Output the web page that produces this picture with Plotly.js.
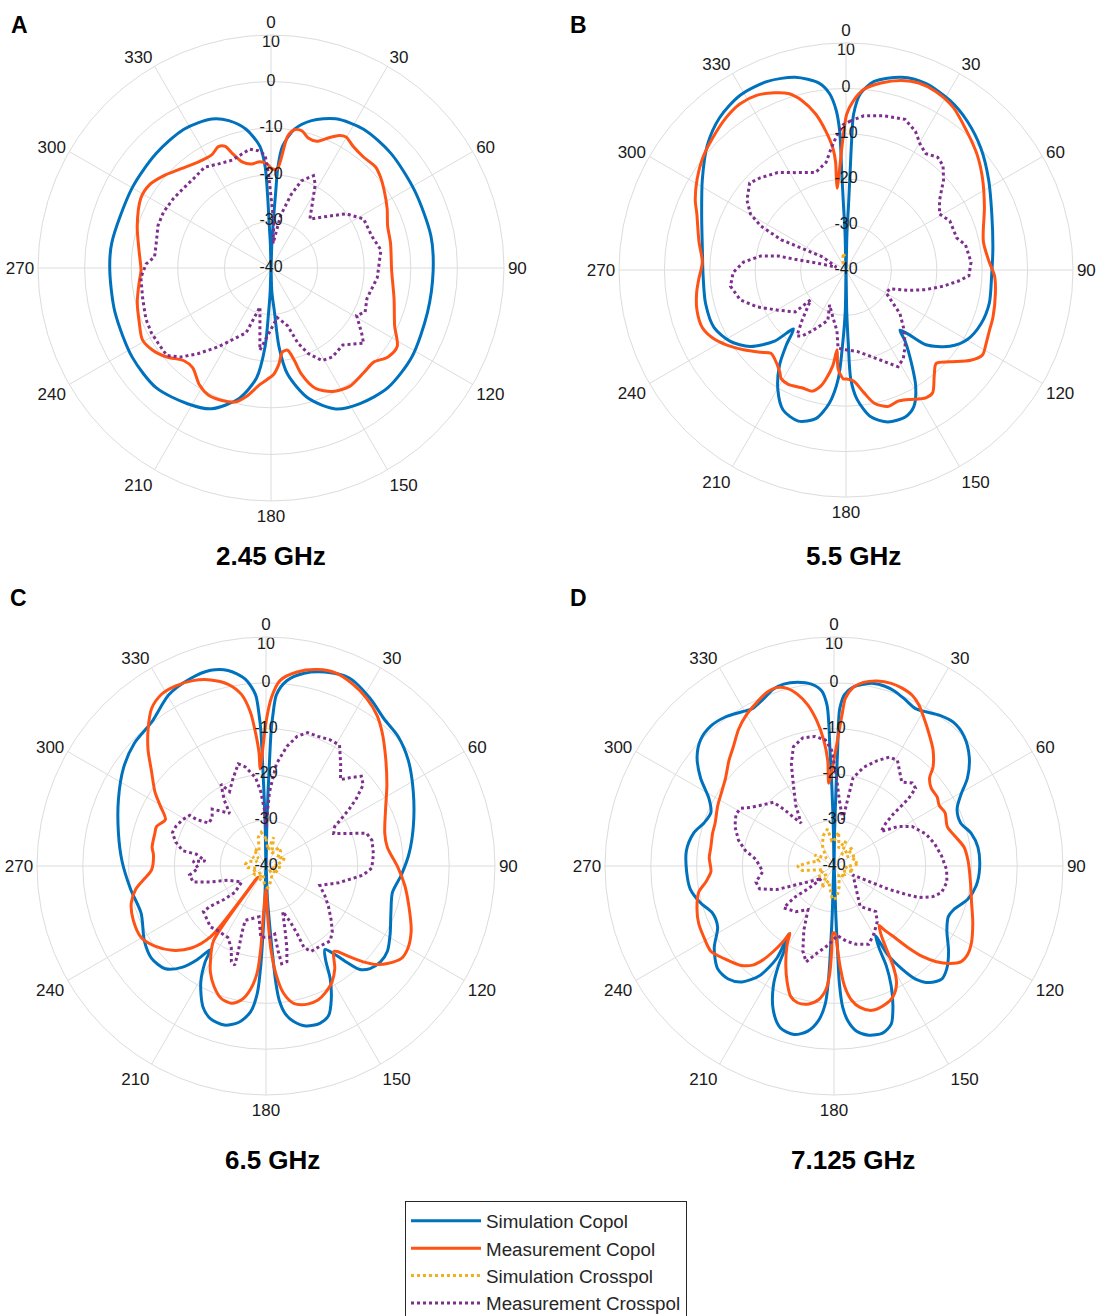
<!DOCTYPE html>
<html>
<head>
<meta charset="utf-8">
<script src="https://cdn.plot.ly/plotly-3.0.1.min.js"></script>
<style>
  html, body { margin: 0; padding: 0; background: #ffffff; }
  #chart { width: 1097px; height: 1316px; }
</style>
</head>
<body>
<div id="chart"></div>
<script>
// Radiation patterns, [angle in degrees (clockwise from 0 at top), gain in dB]

// ---------- 2.45 GHz ----------
const A_simCopol = [
  [0,-40],[2,-35],[2.8,-30.2],[3.5,-24.3],[3.9,-18.4],[5.4,-13.8],[9.6,-9.8],[15.4,-7.2],[23.5,-5.1],
  [33.7,-4.2],[46.3,-4.4],[62,-5.0],[78.8,-5.0],[91,-5.2],[105.8,-5.1],[122.3,-4.25],[135.8,-4.1],
  [146.7,-5.2],[155.3,-6.7],[164,-10.9],[171.1,-16.9],[174.2,-23.0],[175.5,-30.5],[178,-35],[180,-40],
  [182,-35],[183.1,-30.5],[184.3,-23.1],[187.5,-16.2],[193.7,-11.2],[202.9,-7.2],[211.6,-5.8],
  [223.7,-4.4],[237.3,-4.6],[254.2,-5.2],[269,-5.4],[278.9,-5.4],[300,-5.6],[315,-5.2],[327.9,-4.85],
  [338.3,-5.6],[344,-7.1],[349.8,-9.75],[354.8,-13.8],[356.7,-18.3],[357.3,-24.3],[357.7,-31.0],
  [358.5,-35],[360,-40]
];
const A_measCopol = [
  [0.6,-18.7],[3.6,-18.7],[7.2,-11.5],[9.6,-9.9],[12.8,-9.85],[16,-11.0],[19.9,-11.1],[24,-9.4],
  [27.3,-8.0],[29.8,-7.6],[34,-8.5],[39.8,-9.0],[46,-8.8],[50.5,-9.5],[55.3,-10.5],[62.9,-12.0],
  [70.2,-13.4],[78.2,-13.8],[91.3,-14.1],[103.9,-12.8],[115.1,-10.7],[121.9,-8.1],[127.4,-8.5],
  [132.5,-10.1],[138.5,-10.0],[146.4,-9.5],[153.6,-10.4],[159.8,-12.5],[164,-16.3],[165.8,-19.5],
  [168.6,-22.0],[172.3,-21.8],[175.3,-19.3],[178.5,-17.2],[185.4,-14.9],[190.9,-11.9],[194.7,-10.3],
  [200.3,-9.7],[206.3,-9.6],[211.5,-10.6],[218.2,-12.8],[223.2,-12.7],[229.5,-10.6],[235.2,-9.1],
  [240.8,-8.4],[247.5,-9.4],[255.8,-10.4],[264.3,-11.6],[268.8,-12.1],[277.8,-11.4],[287.5,-9.9],
  [298.2,-8.3],[304.5,-8.4],[310.6,-9.6],[317.6,-11.2],[325.4,-12.4],[332.3,-12.6],[336.6,-11.6],
  [339.4,-12.1],[341.4,-14.1],[345,-16.5],[349.3,-17.3],[354,-17.1],[357.7,-17.6],[360.6,-18.7]
];
const A_measCrosspol = [
  [3.5,-30.2],[4.8,-34.7],[10.4,-28.5],[15.3,-23.7],[19.2,-20.2],[24.7,-18.2],[27.9,-19.7],[38.5,-26.6],
  [45.2,-24.5],[54.2,-20.1],[62.1,-17.5],[72.6,-17.3],[80.7,-16.1],[95.2,-17.1],[107.6,-18.4],
  [115.1,-17.7],[119,-19.0],[125.6,-16.1],[129.1,-14.4],[137,-17.4],[145.4,-16.8],[151.1,-17.3],
  [156.5,-20.0],[160.3,-22.9],[164,-27.1],[172.8,-29.3],[187.7,-22.2],[195.8,-31.3],[201,-25.1],
  [206.7,-23.2],[213.7,-19.7],[220.5,-15.8],[225.4,-12.8],[230,-10.8],[236.3,-10.9],[241.5,-10.8],
  [247.8,-11.0],[256.7,-11.7],[265.8,-12.0],[271.9,-13.2],[275.4,-14.9],[282.2,-14.8],[290.5,-14.1],
  [297.4,-14.0],[305.6,-14.3],[312.6,-14.6],[319.7,-14.6],[326.7,-14.1],[333.3,-15.0],[340.3,-15.4],
  [346.1,-14.7],[349.8,-14.1],[353.8,-14.7],[357,-15.7],[358.5,-19.9],[363.5,-30.2]
];

// ---------- 5.5 GHz ----------
const B_simCopol = [
  [0,-40],[1.5,-32],[2.2,-26],[2.4,-18.6],[2.5,-11.0],[2.8,-5.6],[4.7,-1.0],[8.5,2.0],[16.1,4.2],
  [23.1,4.7],[31.5,3.8],[39.1,2.3],[48,0.0],[57.6,-2.8],[69,-5.6],[81.6,-7.3],[92.3,-7.9],[103.1,-7.6],
  [111.8,-8.0],[119.8,-9.2],[126.3,-11.6],[133.1,-15.9],[135.8,-20.2],[138.1,-22.2],[140.3,-19.6],
  [145.3,-14.5],[149,-10.2],[153.6,-6.4],[158,-5.1],[164.6,-5.3],[170.4,-7.2],[175.1,-11.4],
  [177.5,-16.0],[178.2,-23.6],[179,-31],[180,-40],[181,-31],[182.6,-23.6],[184.1,-15.9],[187.1,-10.5],
  [191.5,-6.6],[197.5,-5.1],[204.2,-6.2],[209.7,-9.7],[214.9,-14.4],[218.6,-19.0],[221.7,-22.6],
  [225.1,-17.8],[231.4,-13.0],[238.5,-10.0],[246.4,-8.3],[256.6,-8.2],[267.7,-8.5],[278.6,-8.0],
  [291.2,-5.9],[302.2,-2.6],[312,1.1],[320.3,3.6],[328.8,5.0],[337.4,5.0],[345.2,3.9],[351.8,1.6],
  [354.7,-1.0],[356.5,-4.8],[357.4,-9.5],[357.5,-18.6],[357.8,-26],[358.5,-32],[360,-40]
];
const B_measCopol = [
  [0.25,-5.7],[2.6,-2.6],[5.7,0.0],[10.6,1.9],[16.4,3.5],[21.3,4.2],[26.8,4.0],[33.4,2.9],[41.1,0.5],
  [48.9,-1.6],[56.5,-3.9],[65.5,-6.5],[78.3,-9.1],[86.8,-8.4],[92.3,-7.25],[98.8,-6.7],[107.8,-6.0],
  [113,-5.7],[118,-5.1],[121.9,-4.6],[125.9,-6.1],[131.5,-9.5],[136,-11.4],[140.1,-9.7],[144.8,-6.9],
  [148,-6.8],[154.2,-8.3],[158.3,-8.9],[162.9,-8.55],[168,-10.0],[171.7,-12.7],[176.1,-15.5],
  [179.6,-16.0],[181.4,-16.0],[184.6,-18.2],[186.4,-22.3],[187.8,-18.8],[190.4,-15.6],[192.2,-13.9],
  [195.6,-12.3],[200.5,-12.3],[206.8,-11.8],[210.7,-12.1],[213,-13.2],[219,-14.95],[222,-15.3],
  [226,-13.9],[232.1,-11.4],[238,-8.9],[243.1,-7.0],[248.2,-5.9],[254.9,-6.0],[261.2,-6.7],
  [266.4,-7.5],[273.1,-8.3],[281,-7.0],[290.6,-4.9],[294.9,-3.4],[301.3,-1.6],[307.7,0.0],[314.6,1.3],
  [321.8,2.7],[327.5,3.4],[333.1,3.2],[338,2.1],[341.9,0.9],[345.4,-1.4],[349,-5.0],[351.8,-9.2],
  [353.9,-13.1],[354.5,-16.2],[354.1,-19.2],[353.8,-21.9],[360.25,-5.7]
];
const B_simCrosspol = [[336,-38.5],[345,-37.3],[351,-36.2],[354,-37.0]];
const B_measCrosspol = [
  [1.6,-7.2],[6.6,-5.8],[14,-5.0],[21.4,-4.35],[26.6,-5.85],[30.9,-8.0],[34.5,-8.9],[39.1,-8.0],
  [42.9,-8.6],[47.2,-10.7],[53.3,-14.3],[59.1,-16.0],[64.7,-14.7],[73.9,-14.6],[78.1,-13.1],
  [86.4,-12.4],[92.7,-12.9],[95.6,-15.1],[99.5,-18.3],[103.8,-21.9],[108,-25.5],[113.4,-29.5],
  [119.8,-29.8],[125.3,-27.3],[129,-24.7],[135,-22.1],[141.6,-19.0],[147,-16.8],[151.7,-15.8],
  [157.2,-18.1],[164,-20.2],[172.3,-21.9],[179.5,-22.4],[185.8,-22.7],[188.4,-26.4],[195.5,-29.2],
  [205.2,-31.5],[199.8,-28.2],[203.4,-27.0],[209,-24.7],[213.7,-22.5],[216.7,-21.9],[221,-25.2],
  [229.8,-29.8],[230.5,-25.5],[239.4,-22.6],[247.5,-18.8],[254.2,-15.8],[262,-14.3],[268.8,-15.15],
  [274.4,-17.35],[279.4,-21.0],[281.7,-24.7],[281.8,-28.5],[283.4,-33.1],[286,-37.8],[299.2,-34.1],
  [296.2,-29.2],[295,-24.3],[297.3,-18.9],[300.4,-15.6],[305.2,-13.3],[312.1,-11.4],[317.2,-12.3],
  [325,-13.8],[332.4,-15.8],[342.7,-17.5],[349.5,-15.9],[353,-13.05],[355.9,-10.5],[358.9,-8.0],
  [361.6,-7.2]
];

// ---------- 6.5 GHz ----------
const C_simCopol = [
  [0,-40],[1.2,-30],[1.8,-20],[2.2,-10.1],[2.6,-7.1],[3.5,-2.5],[6.4,0.7],[11.2,2.9],[16.9,4.25],
  [23.9,4.9],[31.8,3.1],[38.7,1.2],[45.5,0.4],[53.4,-1.3],[63.3,-4.0],[75,-6.7],[85.3,-8.7],
  [93.8,-10.4],[101.8,-11.8],[110.7,-10.85],[118.7,-9.1],[125.1,-7.6],[129.9,-7.4],[134.6,-8.1],
  [137.8,-9.5],[140.2,-12.8],[142,-15.4],[144.8,-17.7],[147.6,-15.7],[150.4,-11.6],[154,-7.5],
  [157.3,-4.6],[161.1,-3.7],[166,-4.0],[169.9,-5.5],[172.6,-7.5],[174.4,-10.6],[175.2,-14.5],
  [175.7,-19.8],[176.3,-25.9],[177.5,-33],[180,-40],[182,-33],[182.5,-25.9],[183,-18.3],[183.9,-12.2],
  [186.1,-7.9],[190,-5.3],[194.7,-4.1],[199.9,-4.5],[204.1,-6.3],[209.2,-10.8],[212.4,-15.2],
  [213.6,-18.1],[216.4,-14.5],[219.5,-11.4],[224.4,-8.6],[231.1,-7.9],[238.3,-8.8],[249.3,-10.85],
  [260.4,-10.0],[271.9,-8.55],[282.5,-7.0],[294.5,-4.6],[304.7,-2.2],[313,-0.7],[321.4,0.1],
  [330.5,3.0],[337.8,4.1],[344.2,4.4],[349,3.5],[353.6,1.1],[356.5,-2.5],[357.4,-7.1],[357.8,-10.1],
  [358.2,-20],[358.8,-30],[360,-40]
];
const C_measCopol = [
  [0,-8.6],[1.8,-3.3],[4.3,0.6],[9.1,2.9],[14.8,4.35],[19.8,4.8],[25.5,4.0],[30.9,2.7],[36.4,0.85],
  [41.1,-1.4],[47.7,-4.7],[56.1,-8.2],[64.6,-11.1],[74.6,-13.1],[81.2,-13.2],[90.6,-11.2],[98,-9.4],
  [105.7,-7.6],[114,-5.3],[120,-4.2],[124.3,-4.2],[128.8,-6.0],[131.6,-7.6],[134.6,-10.2],
  [137.4,-13.1],[140.2,-15.7],[141.6,-16.2],[146.2,-13.0],[150.5,-10.8],[155.1,-9.4],[158.8,-8.6],
  [163.2,-8.5],[168.6,-9.4],[172.2,-12.0],[174.6,-16.0],[176.5,-21.3],[178,-28.9],[178.7,-33.1],
  [180,-35],[183.1,-28.9],[183.6,-22.1],[184.7,-16.7],[187.2,-12.8],[190.3,-10.3],[194.2,-9.1],
  [198.8,-9.5],[203.4,-11.4],[207.6,-13.8],[210.1,-15.8],[215,-20.0],[216.5,-37.0],[218,-20.5],
  [222.3,-15.8],[228,-12.5],[234.2,-10.1],[240.2,-8.6],[247.8,-8.7],[254.7,-9.5],[260,-11.15],
  [264.1,-13.35],[268.1,-15.0],[275.8,-15.3],[279.3,-14.8],[286.4,-14.7],[289.9,-14.6],[294.8,-15.8],
  [299.7,-13.4],[303.8,-10.8],[309.7,-7.5],[314.5,-3.9],[319.2,-0.6],[324,2.5],[328.8,3.9],
  [333.4,4.0],[338.5,3.5],[343.4,2.4],[348.1,0.6],[351.9,-2.2],[354.2,-6.2],[355.5,-10.8],
  [356.5,-15.4],[356.5,-18.8],[360,-8.6]
];
const C_simCrosspol = [
  [0,-34],[8,-36.5],[15,-33.5],[25,-37],[35,-35],[45,-35.5],[55,-37],[65,-35.5],[75,-36.2],[85,-38],
  [95,-36.8],[105,-38.5],[120,-37],[135,-38.8],[150,-37.5],[165,-36.3],[175,-35.2],[185,-36],
  [195,-37.8],[205,-36.5],[215,-38.3],[230,-37],[245,-36.6],[255,-38],[265,-36],[275,-35.5],
  [285,-35.9],[295,-37.8],[305,-36.5],[315,-37.6],[325,-35.5],[335,-36.5],[345,-33.5],[352,-32.6],
  [360,-34]
];
const C_measCrosspol = [
  [0,-31.4],[2.7,-23.8],[5.8,-17.6],[9.9,-13.5],[13.5,-10.9],[17.35,-9.5],[21.85,-9.5],[26.9,-9.1],
  [31.3,-9.1],[36.2,-12.4],[40.8,-15.1],[43.4,-13.5],[46.7,-11.4],[50.1,-12.35],[53.3,-15.4],
  [55.65,-18.0],[58.1,-20.8],[60.1,-22.7],[64.3,-23.6],[68.6,-20.5],[72,-16.9],[76.4,-16.2],
  [83.7,-16.4],[91.1,-16.9],[95.3,-18.7],[98.2,-20.9],[102.9,-23.7],[109.9,-27.5],[116.8,-25.6],
  [122.8,-23.8],[129.7,-21.5],[134.8,-19.6],[139.4,-18.45],[146.1,-18.9],[152.1,-18.9],[155,-20.3],
  [155.3,-23.7],[156.5,-26.7],[159.9,-29.4],[163.5,-25.3],[165.7,-21.55],[167.7,-18.6],[170.9,-18.4],
  [171.9,-21.2],[172.7,-25.0],[177.2,-24.4],[184.2,-24.4],[187.8,-28.8],[201,-27.3],[199.7,-24.2],
  [198,-20.4],[197.5,-17.3],[199.9,-17.8],[203,-20.6],[208.1,-22.3],[217,-22.4],[222.3,-22.0],
  [234,-23.1],[234.1,-25.0],[231.3,-28.4],[229.8,-31.1],[236.7,-33.65],[249.6,-31.1],[254,-27.4],
  [257.6,-23.7],[263.3,-23.2],[268.2,-25.2],[273.8,-24.05],[274.6,-26.7],[279.6,-24.6],[280.4,-21.5],
  [284.9,-19.6],[289.6,-18.3],[293.7,-18.5],[299.2,-19.2],[303.6,-20.0],[303.8,-21.8],[306.9,-24.4],
  [311.9,-24.2],[316.6,-22.9],[325.4,-26.0],[327.6,-23.0],[331.2,-19.6],[333.9,-21.9],[339.5,-19.5],
  [344.8,-16.9],[348.2,-17.9],[353.3,-20.6],[356,-23.75],[358.3,-27.6],[360,-31.4]
];

// ---------- 7.125 GHz ----------
const D_simCopol = [
  [0,-40],[1.0,-32],[1.5,-23.8],[1.8,-13.9],[1.8,-8.6],[2.1,-5.6],[3.5,-2.5],[6.1,-0.7],[9.2,0.2],
  [12.3,0.8],[15.6,0.8],[19.15,0.4],[23.2,-0.5],[27.4,-1.3],[30.8,-0.8],[35.1,0.2],[39.8,0.8],
  [45.1,0.1],[51.2,-2.1],[56.6,-5.1],[60.8,-8.3],[65.2,-10.4],[71.2,-10.8],[76.6,-9.2],[82.6,-8.3],
  [90.8,-8.2],[97.8,-8.65],[104,-9.9],[110.1,-12.2],[113.9,-12.7],[119.8,-11.6],[126.7,-8.8],
  [132.3,-6.7],[136.4,-5.9],[140.7,-7.1],[144.2,-9.55],[146.6,-13.1],[148.8,-17.3],[149.2,-22.3],
  [151.2,-19.6],[152.3,-15.5],[154.5,-11.0],[157.3,-6.65],[160.1,-3.3],[163.8,-2.0],[168.4,-2.3],
  [172.2,-3.6],[174.9,-6.1],[176.5,-9.2],[177.4,-14.5],[177.6,-22.1],[177.9,-29.7],[180,-40],
  [182.1,-29.7],[182.4,-22.1],[182.7,-16.0],[183.6,-9.9],[185.8,-6.0],[189,-3.5],[193.3,-2.2],
  [198.4,-2.8],[202.8,-5.8],[206.8,-10.6],[209.2,-15.2],[210.7,-19.2],[213.6,-22.2],[211.8,-16.3],
  [214.2,-11.05],[218.4,-7.7],[223.1,-6.2],[228.5,-6.1],[235.6,-8.3],[242.3,-11.3],[248.8,-11.55],
  [254.6,-9.75],[261,-8.2],[267.8,-7.8],[275.9,-7.6],[283.1,-8.5],[288.3,-10.1],[293.45,-10.7],
  [298.3,-9.0],[303.4,-5.1],[308.5,-1.8],[313.4,0.1],[318.7,0.7],[323.7,0.3],[329.2,-0.8],
  [332.6,-1.3],[336.8,-0.5],[341,0.8],[344.5,1.2],[348.8,0.9],[352.9,0.0],[356,-1.7],[357.5,-4.8],
  [357.9,-8.6],[358,-13.9],[358.5,-23.8],[359,-32],[360,-40]
];
const D_measCopol = [
  [3.0,-7.1],[3.9,-3.25],[6.1,-0.8],[9.1,0.6],[13.2,1.5],[17.4,1.8],[20.8,1.6],[24.6,1.0],
  [27.8,-0.25],[31.5,-2.3],[35.4,-4.3],[40.5,-6.7],[45.1,-9.5],[47.3,-11.6],[51.3,-12.8],[56.2,-12.9],
  [60.1,-13.5],[64.3,-13.1],[70.8,-13.8],[76.5,-12.7],[81.8,-11.3],[87.9,-10.7],[96.7,-10.0],
  [105,-8.9],[112.5,-7.2],[119.8,-5.5],[123.6,-5.0],[127.1,-5.3],[130,-6.9],[133.1,-9.4],
  [135.7,-12.4],[137.7,-15.8],[139.65,-19.5],[141.8,-22.25],[142.75,-23.7],[145.4,-22.0],
  [147.6,-18.8],[149.3,-14.8],[151.8,-11.1],[155.7,-8.7],[160.1,-7.7],[165.2,-7.4],[169.6,-8.6],
  [172.6,-10.5],[175,-13.7],[176.6,-18.3],[178.1,-23.6],[179.1,-25.3],[180.9,-25.3],[181.6,-21.4],
  [182.2,-16.8],[183.7,-13.0],[186.6,-10.6],[190.7,-9.3],[194.9,-9.1],[198.4,-10.0],[201.9,-12.6],
  [205.9,-15.9],[210.9,-20.05],[213.2,-22.4],[213.9,-20.3],[215.4,-17.1],[217.1,-14.3],[219.4,-12.0],
  [223.4,-10.2],[229.6,-8.7],[235.3,-7.3],[241.2,-7.6],[247,-7.9],[252.3,-8.6],[259,-9.9],
  [262.9,-11.8],[267.4,-13.1],[273.8,-12.7],[278.6,-12.8],[285,-12.55],[289.9,-12.4],[297.4,-11.4],
  [303.5,-10.6],[309.1,-9.5],[315.1,-7.5],[319.9,-5.9],[325.1,-3.6],[329.8,-1.9],[334.4,-0.6],
  [338.7,0.6],[342.2,0.9],[345.2,0.1],[348,-1.7],[350.8,-4.4],[353.2,-8.0],[355.3,-12.3],
  [356.6,-16.9],[356.4,-21.9],[363.0,-7.1]
];
const D_simCrosspol = [
  [0,-34.5],[8,-32.5],[15,-36],[25,-34],[35,-37],[45,-34.4],[55,-36.5],[65,-34.8],[75,-35.8],
  [85,-34.5],[95,-37.5],[105,-35.5],[120,-37.8],[135,-36.5],[150,-38],[165,-35.5],[175,-33],
  [183,-32.7],[190,-35],[200,-36.6],[210,-34.5],[220,-37.5],[235,-36],[250,-37.6],[262,-33],
  [270,-32],[278,-34.6],[288,-36.5],[300,-35.2],[315,-37.6],[330,-35],[340,-33],[350,-31.8],
  [355,-34.5],[360,-34.5]
];
const D_measCrosspol = [
  [1.0,-19.2],[4.4,-25.3],[10.6,-29.7],[12.2,-20.3],[16.7,-17.5],[22.4,-15.1],[27,-13.3],[31,-13.1],
  [35.2,-15.05],[38.9,-16.45],[43.3,-15.1],[46.4,-15.4],[47.9,-18.1],[48.35,-20.7],[48.8,-22.9],
  [50.4,-25.3],[53.7,-27.3],[58.4,-23.5],[63.1,-20.9],[70.85,-18.75],[77.55,-17.5],[84.7,-16.4],
  [91.9,-15.4],[98.1,-15.1],[103.8,-15.8],[107.2,-17.4],[110.4,-20.2],[111.6,-23.3],[113.1,-27.2],
  [113.7,-31.3],[115.3,-35.4],[147.1,-29.5],[137.5,-26.5],[142.2,-24.6],[149.6,-22.8],[156.1,-21.3],
  [164,-22.2],[170.8,-23.4],[177.2,-24.8],[183.8,-22.8],[192.1,-20.2],[196.2,-18.2],[200.1,-20.2],
  [205.1,-24.45],[210.8,-28.9],[220,-27.0],[230.2,-25.7],[231.6,-28.9],[228.7,-32.4],[224.2,-36.2],
  [247.6,-26.5],[252.9,-23.0],[258.4,-22.6],[265.5,-24.4],[274.8,-22.9],[279.8,-20.4],[285.1,-18.4],
  [291.8,-16.7],[297.8,-15.8],[301.6,-16.0],[305.2,-17.8],[310.65,-19.5],[316.4,-20.8],[318.5,-23.4],
  [320.4,-26.3],[322.5,-28.2],[327.7,-24.4],[333.4,-20.2],[337.3,-15.85],[341.2,-12.5],[346.3,-11.2],
  [351.6,-11.4],[356.1,-12.4],[358.8,-14.7],[361.0,-19.2]
];

// Axis ticks and labels
const ANGLE_TICKS = [0, 30, 60, 90, 120, 150, 180, 210, 240, 270, 300, 330];
const ANGLE_LABELS = ['0', '30', '60', '90', '120', '150', '180', '210', '240', '270', '300', '330'];
const DB_TICKS = [10, 0, -10, -20, -30, -40];
const DB_LABELS = ['10', '0', '-10', '-20', '-30', '-40'];
const FREQUENCIES = ['2.45 GHz', '5.5 GHz', '6.5 GHz', '7.125 GHz'];
const PANEL_LETTERS = ['A', 'B', 'C', 'D'];
const SERIES_NAMES = {
  simCo: 'Simulation Copol',
  measCo: 'Measurement Copol',
  simX: 'Simulation Crosspol',
  measX: 'Measurement Crosspol'
};

// Styling
const W = 1097, H = 1316;
const FONT = 'Liberation Sans, Arial, Helvetica, sans-serif';
const GRID = '#dcdcdc';
const COLORS = { simCo: '#0072BD', measCo: '#FF5316', simX: '#F2B01E', measX: '#7E2F8E' };

// Each panel: polar subplot id, centre (px from top-left), outer radius (px),
// letter position and frequency caption position.
const PANELS = [
  { id: 'polar',  cx: 271, cy: 268, R: 233, letter: [19, 25],  caption: [271, 556],
    curves: { simCo: A_simCopol, measCo: A_measCopol, measX: A_measCrosspol } },
  { id: 'polar2', cx: 846, cy: 270, R: 227, letter: [578, 25], caption: [853, 556],
    curves: { simCo: B_simCopol, measCo: B_measCopol, simX: B_simCrosspol, measX: B_measCrosspol } },
  { id: 'polar3', cx: 266, cy: 866, R: 229, letter: [18, 598], caption: [272, 1160], legend: true,
    curves: { simCo: C_simCopol, measCo: C_measCopol, simX: C_simCrosspol, measX: C_measCrosspol } },
  { id: 'polar4', cx: 834, cy: 866, R: 229, letter: [578, 598], caption: [853, 1160],
    curves: { simCo: D_simCopol, measCo: D_measCopol, simX: D_simCrosspol, measX: D_measCrosspol } }
];

function curveTrace(subplot, kind, pts, showlegend) {
  const solid = (kind === 'simCo' || kind === 'measCo');
  return {
    type: 'scatterpolar',
    subplot: subplot,
    mode: 'lines',
    name: SERIES_NAMES[kind],
    showlegend: showlegend,
    theta: pts.map(p => p[0]),
    r: pts.map(p => p[1]),
    line: {
      color: COLORS[kind],
      width: 3,
      dash: solid ? 'solid' : 'dot',
      shape: solid ? 'spline' : 'linear',
      smoothing: 0.8
    },
    hoverinfo: 'skip'
  };
}

function radialLabels(subplot) {
  return {
    type: 'scatterpolar',
    subplot: subplot,
    mode: 'text',
    r: DB_TICKS,
    theta: DB_TICKS.map(() => 0),
    text: DB_LABELS,
    textposition: ['bottom center', 'middle center', 'middle center', 'middle center', 'middle center', 'middle center'],
    textfont: { family: FONT, size: 16, color: '#1a1a1a' },
    showlegend: false,
    hoverinfo: 'skip'
  };
}

function polarLayout(p) {
  return {
    domain: {
      x: [(p.cx - p.R) / W, (p.cx + p.R) / W],
      y: [1 - (p.cy + p.R) / H, 1 - (p.cy - p.R) / H]
    },
    bgcolor: '#ffffff',
    radialaxis: {
      range: [-40, 10],
      tickvals: DB_TICKS,
      showticklabels: false,
      ticks: '',
      showline: false,
      gridcolor: GRID,
      gridwidth: 1,
      angle: 90
    },
    angularaxis: {
      rotation: 90,
      direction: 'clockwise',
      tickmode: 'array',
      tickvals: ANGLE_TICKS,
      ticktext: ANGLE_LABELS,
      ticks: '',
      showline: true,
      linecolor: GRID,
      linewidth: 1,
      gridcolor: GRID,
      gridwidth: 1,
      tickfont: { family: FONT, size: 17, color: '#1a1a1a' }
    }
  };
}

const data = [];
const annotations = [];
const layout = {
  width: W,
  height: H,
  // the legend box runs off the bottom edge; keep it from resizing the plot area
  margin: { l: 0, r: 0, t: 0, b: 0, autoexpand: false },
  paper_bgcolor: '#ffffff',
  font: { family: FONT, color: '#1a1a1a' },
  showlegend: true,
  legend: {
    x: 405 / W, y: 1 - 1201 / H, xanchor: 'left', yanchor: 'top',
    bgcolor: '#ffffff', bordercolor: '#262626', borderwidth: 1,
    font: { family: FONT, size: 18.8, color: '#262626' },
    itemwidth: 70,
    traceorder: 'normal'
  },
  annotations: annotations
};

PANELS.forEach((p, i) => {
  layout[p.id] = polarLayout(p);
  ['simCo', 'measCo', 'simX', 'measX'].forEach(kind => {
    if (p.curves[kind]) data.push(curveTrace(p.id, kind, p.curves[kind], !!p.legend));
  });
  data.push(radialLabels(p.id));
  annotations.push({
    xref: 'paper', yref: 'paper', x: p.letter[0] / W, y: 1 - p.letter[1] / H,
    xanchor: 'center', yanchor: 'middle', showarrow: false,
    text: '<b>' + PANEL_LETTERS[i] + '</b>', font: { family: FONT, size: 23, color: '#000' }
  });
  annotations.push({
    xref: 'paper', yref: 'paper', x: p.caption[0] / W, y: 1 - p.caption[1] / H,
    xanchor: 'center', yanchor: 'middle', showarrow: false,
    text: '<b>' + FREQUENCIES[i] + '</b>', font: { family: FONT, size: 26, color: '#000' }
  });
});

Plotly.newPlot('chart', data, layout, { staticPlot: true });
</script>
</body>
</html>
